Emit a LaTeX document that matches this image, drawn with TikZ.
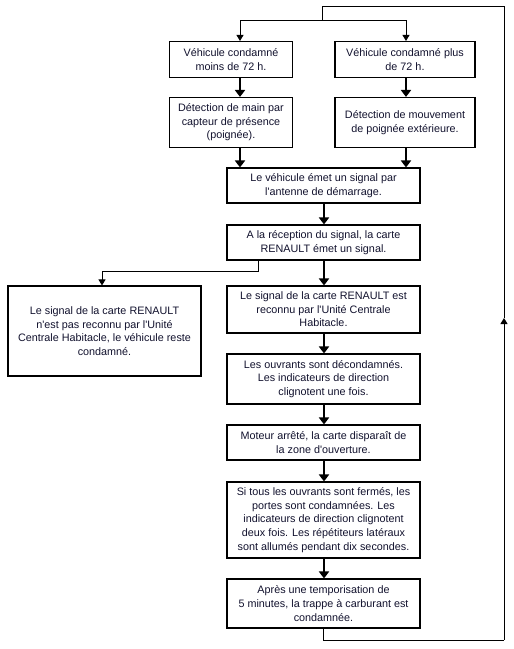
\documentclass[tikz,border=0pt]{standalone}
\usepackage{fontspec}
\setmainfont{Liberation Sans}
\usetikzlibrary{arrows.meta}
\definecolor{txtcol}{HTML}{12122E}
\newcommand{\apo}{\textquotesingle}
\begin{document}
\begin{tikzpicture}[x=1pt,y=-1pt,
  box/.style={draw, line width=1.1pt, align=center, text=txtcol, inner sep=0pt,
    font=\fontsize{10.8pt}{13.6pt}\selectfont},
  bigarr/.style={line width=2.2pt, -{Triangle[length=7pt,width=10pt]}},
  smallarr/.style={line width=1pt, -{Triangle[length=6pt,width=7pt]}},
  wire/.style={line width=1pt}]
\useasboundingbox (0,0) rectangle (514,649);
\fill[white] (0,0) rectangle (514,649);
% helper columns
\coordinate (cL) at (240,0);
\coordinate (cR) at (406,0);
\coordinate (cM) at (324,0);
% boxes
\node[box, minimum width=123pt, minimum height=36pt] (A1) at (231,59.5) {Véhicule condamné\\moins de 72 h.};
\node[box, minimum width=140pt, minimum height=36pt] (A2) at (405,59.5) {Véhicule condamné plus\\de 72 h.};
\node[box, minimum width=123pt, minimum height=50pt] (B1) at (231,122.5) {Détection de main par\\capteur de présence\\(poignée).};
\node[box, minimum width=140pt, minimum height=50pt] (B2) at (405,122.5) {Détection de mouvement\\de poignée extérieure.};
\node[box, minimum width=193pt, minimum height=35pt] (C) at (323.5,185.5) {Le véhicule émet un signal par\\l\apo antenne de démarrage.};
\node[box, minimum width=193pt, minimum height=35pt] (D) at (323.5,242.5) {A la réception du signal, la carte\\RENAULT émet un signal.};
\node[box, minimum width=193pt, minimum height=90pt] (E) at (104.5,331) {Le signal de la carte RENAULT\\n\apo est pas reconnu par l\apo Unité\\Centrale Habitacle, le véhicule reste\\condamné.};
\node[box, minimum width=193pt, minimum height=47pt] (F) at (323.5,309.5) {Le signal de la carte RENAULT est\\reconnu par l\apo Unité Centrale\\Habitacle.};
\node[box, minimum width=193pt, minimum height=50pt] (G) at (323.5,379) {Les ouvrants sont décondamnés.\\Les indicateurs de direction\\clignotent une fois.};
\node[box, minimum width=193pt, minimum height=35pt] (H) at (323.5,442.5) {Moteur arrêté, la carte disparaît de\\la zone d\apo ouverture.};
\node[box, minimum width=193pt, minimum height=76pt] (I) at (323.5,520) {Si tous les ouvrants sont fermés, les\\portes sont condamnées. Les\\indicateurs de direction clignotent\\deux fois. Les répétiteurs latéraux\\sont allumés pendant dix secondes.};
\node[box, minimum width=193pt, minimum height=49pt] (J) at (323.5,603.5) {Après une temporisation de\\5 minutes, la trappe à carburant est\\condamnée.};
% loop coordinates
\coordinate (lb) at (323,640);
\coordinate (rb) at (504,640);
\coordinate (ra) at (504,318);
\coordinate (rt) at (504,6);
\coordinate (mt) at (322,6);
\coordinate (ms) at (322,20);
\coordinate (ls) at (240,20);
\coordinate (rs) at (406,20);
\coordinate (ds) at (258,271);
\coordinate (es) at (102,271);
% loop back
\draw[wire] (J.south -| lb) -- (lb) -- (rb);
\draw[smallarr] (rb) -- (ra);
\draw[wire] (ra) -- (rt) -- (mt) -- (ms);
\draw[wire] (ls) -- (rs);
\draw[smallarr] (ls) -- (A1.north -| ls);
\draw[smallarr] (rs) -- (A2.north -| rs);
% main arrows
\draw[bigarr] (A1.south -| cL) -- (B1.north -| cL);
\draw[bigarr] (A2.south -| cR) -- (B2.north -| cR);
\draw[bigarr] (B1.south -| cL) -- (C.north -| cL);
\draw[bigarr] (B2.south -| cR) -- (C.north -| cR);
\draw[bigarr] (C.south -| cM) -- (D.north -| cM);
\draw[bigarr] (D.south -| cM) -- (F.north -| cM);
\draw[bigarr] (F.south -| cM) -- (G.north -| cM);
\draw[bigarr] (G.south -| cM) -- (H.north -| cM);
\draw[bigarr] (H.south -| cM) -- (I.north -| cM);
\draw[bigarr] (I.south -| cM) -- (J.north -| cM);
% branch to E
\draw[wire] (D.south -| ds) -- (ds) -- (es);
\draw[smallarr] (es) -- (E.north -| es);
\end{tikzpicture}
\end{document}
